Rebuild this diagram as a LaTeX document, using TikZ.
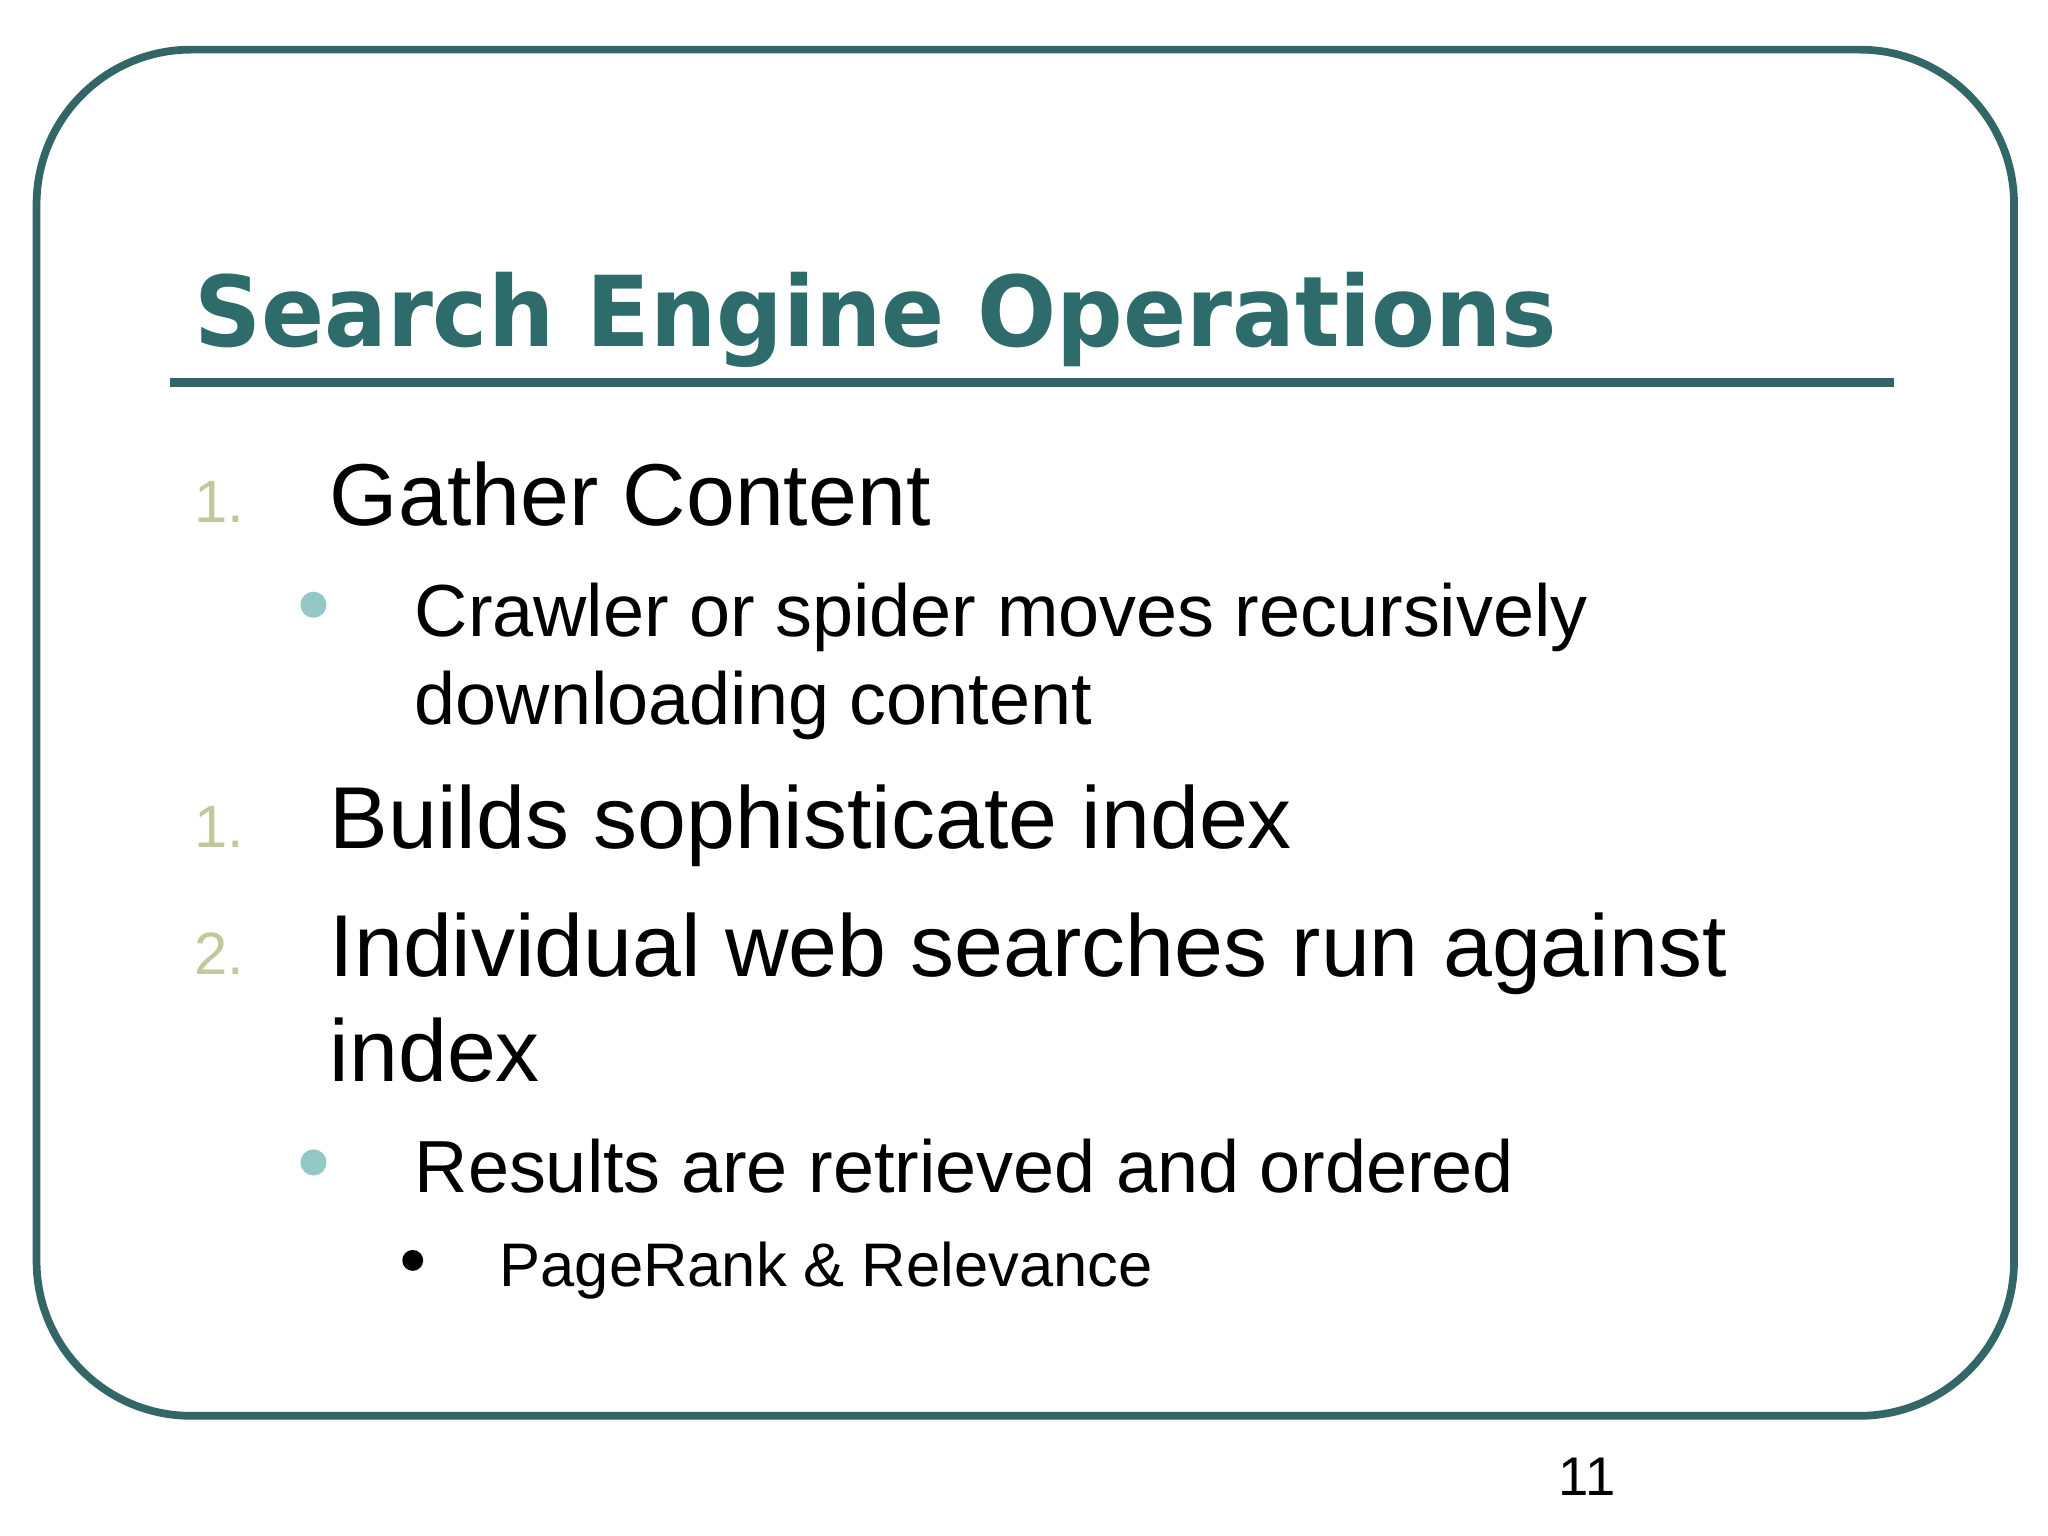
\documentclass[tikz,border=0pt]{standalone}
\usepackage{fontspec}
\setmainfont{Liberation Sans}
\newfontfamily\titlefont{DejaVu Sans}
\definecolor{teal1}{HTML}{336666}
\definecolor{titlec}{HTML}{2E6B6B}
\definecolor{numc}{HTML}{C2C89C}
\definecolor{bulc}{HTML}{93C8C6}
\tikzset{
 txt/.style={anchor=base west,inner sep=0pt,font=\fontsize{#1}{#1}\selectfont},
 num/.style={anchor=base west,inner sep=0pt,text=numc,font=\fontsize{17}{17}\selectfont},
}
\begin{document}
\begin{tikzpicture}[x=0.01306cm,y=-0.01306cm]
\useasboundingbox[fill=white] (0,0) rectangle (1568,1176);
\draw[teal1,line width=2.2pt,rounded corners=44pt] (28,38) rectangle (1542,1084);
\node[txt=28,text=titlec,font=\titlefont\bfseries\fontsize{26.5}{26.5}\selectfont,yscale=1.05] (title) at (148,265) {Search Engine Operations};
\draw[teal1,line width=2.6pt] (130,293) -- (1450,293);
\node[num] (n1) at (148,400) {1.};
\node[txt=25] (t1) at (252,402) {Gather Content};
\fill[bulc] (240,463) circle (10);
\node[txt=21] (t2) at (317,487) {Crawler or spider moves recursively};
\node[txt=21] (t3) at (317,555) {downloading content};
\node[num] (n2) at (148,649) {1.};
\node[txt=25] (t4) at (252,650) {Builds sophisticate index};
\node[num] (n3) at (148,746) {2.};
\node[txt=25] (t5) at (252,748) {Individual web searches run against};
\node[txt=25] (t6) at (252,828) {index};
\fill[bulc] (240,890) circle (10);
\node[txt=21] (t7) at (317,913) {Results are retrieved and ordered};
\fill[black] (316,965) circle (8);
\node[txt=17.5] (t8) at (382,985) {PageRank \& Relevance};
\node[txt=15.5] (pg) at (1193,1145) {11};
\end{tikzpicture}
\end{document}
